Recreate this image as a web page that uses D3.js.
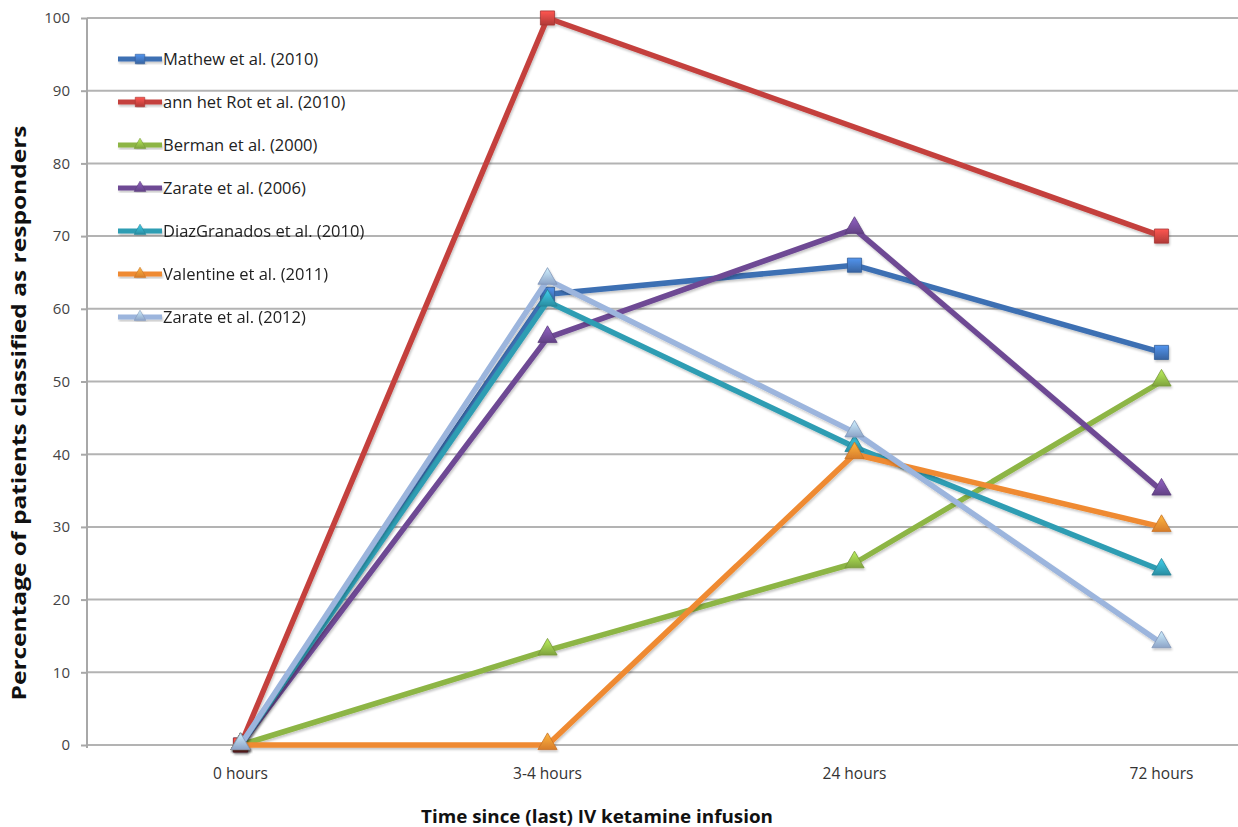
<!DOCTYPE html>
<html><head><meta charset="utf-8">
<script src="https://cdn.jsdelivr.net/npm/d3@7"></script>
<style>body{margin:0;background:#fff}svg{display:block}</style>
</head><body>
<svg id="c" width="1238" height="827"></svg>
<script>
const categories = ["0 hours","3-4 hours","24 hours","72 hours"];
const yTicks = [0,10,20,30,40,50,60,70,80,90,100];
const seriesNames = ["Mathew et al. (2010)","ann het Rot et al. (2010)","Berman et al. (2000)","Zarate et al. (2006)","DiazGranados et al. (2010)","Valentine et al. (2011)","Zarate et al. (2012)"];
const mathew = [0,62,66,54];
const annHetRot = [0,100,null,70];
const berman = [0,13,25,50];
const zarate2006 = [0,56,71,35];
const diazGranados = [0,61,41,24];
const valentine = [0,0,40,30];
const zarate2012 = [0,64,43,14];
const seriesValues = [mathew, annHetRot, berman, zarate2006, diazGranados, valentine, zarate2012];
const colors = ["#3e6fb3","#c4413d","#8db545","#6e4a94","#2f9db3","#ef8a30","#9cb5dd"];
const markers = ["square","square","triangle","triangle","triangle","triangle","triangle"];

(function(){
const svg = d3.select("#c");
const mLeft = 87, mTop = 18, mBottom = 745;
const x = d3.scalePoint().domain(categories).range([mLeft, 1315]).padding(0.5);
const y = d3.scaleLinear().domain([0,100]).range([mBottom, mTop]);
const font = "Open Sans, sans-serif";

const defs = svg.append("defs");
const f = defs.append("filter").attr("id","sh").attr("x","-10%").attr("y","-10%").attr("width","120%").attr("height","120%");
f.append("feDropShadow").attr("dx",1).attr("dy",2).attr("stdDeviation",1.2).attr("flood-color","#000").attr("flood-opacity",0.22);
colors.forEach((c,i)=>{
  const g = defs.append("linearGradient").attr("id","g"+i).attr("x1",0).attr("y1",0).attr("x2",0).attr("y2",1);
  g.append("stop").attr("offset","0%").attr("stop-color", d3.color(c).brighter(0.8));
  g.append("stop").attr("offset","100%").attr("stop-color", d3.color(c).darker(0.3));
});

svg.append("g").selectAll("line").data(yTicks).join("line")
  .attr("x1",mLeft).attr("x2",1238).attr("y1",d=>y(d)).attr("y2",d=>y(d))
  .attr("stroke","#b3b3b3").attr("stroke-width",2);

const ya = svg.append("g").attr("transform",`translate(${mLeft},0)`)
  .call(d3.axisLeft(y).tickValues(yTicks).tickSize(6).tickPadding(11));
ya.select(".domain").attr("stroke","#a8a8a8").attr("stroke-width",2).attr("d",`M0,${mTop}V${mBottom+3}`);
ya.selectAll(".tick line").attr("stroke","#a8a8a8").attr("stroke-width",2);
ya.selectAll(".tick text").attr("font-family",font).attr("font-size",15).attr("fill","#444");

svg.append("g").selectAll("text").data(categories).join("text")
  .attr("x",d=>x(d)).attr("y",779).attr("text-anchor","middle")
  .attr("font-family",font).attr("font-size",15.5).attr("fill","#333").text(d=>d);

svg.append("text").attr("transform","translate(26,413) rotate(-90)").attr("text-anchor","middle")
  .attr("font-family",font).attr("font-weight","bold").attr("font-size",20).attr("fill","#111")
  .attr("textLength",575).attr("lengthAdjust","spacingAndGlyphs")
  .text("Percentage of patients classified as responders");
svg.append("text").attr("x",597).attr("y",823).attr("text-anchor","middle")
  .attr("font-family",font).attr("font-weight","bold").attr("font-size",18).attr("fill","#111")
  .attr("textLength",352).attr("lengthAdjust","spacingAndGlyphs")
  .text("Time since (last) IV ketamine infusion");

const line = d3.line().x(d=>x(d.c)).y(d=>y(d.v));
const sq = d3.symbol().type(d3.symbolSquare).size(200);
const tri = d3.symbol().type(d3.symbolTriangle).size(160);

seriesValues.forEach((vals,i)=>{
  const pts = vals.map((v,j)=>({c:categories[j],v})).filter(d=>d.v!==null);
  const g = svg.append("g").attr("filter","url(#sh)");
  g.append("path").attr("d",line(pts)).attr("fill","none").attr("stroke",colors[i]).attr("stroke-width",5.5).attr("stroke-linejoin","round");
  g.selectAll("path.m").data(pts).join("path").attr("class","m")
    .attr("transform",d=>`translate(${x(d.c)},${y(d.v)+(markers[i]==="triangle"?-1:0)})`)
    .attr("d",markers[i]==="square"?sq():tri())
    .attr("fill",`url(#g${i})`).attr("stroke",d3.color(colors[i]).darker(0.5)).attr("stroke-width",0.8);
});

const lg = svg.append("g");
seriesNames.forEach((n,i)=>{
  const yy = 59 + i*43;
  const g = lg.append("g").attr("filter","url(#sh)");
  g.append("line").attr("x1",118).attr("x2",162).attr("y1",yy).attr("y2",yy).attr("stroke",colors[i]).attr("stroke-width",5);
  g.append("path").attr("transform",`translate(140,${yy})`)
    .attr("d",markers[i]==="square"?d3.symbol().type(d3.symbolSquare).size(90)():d3.symbol().type(d3.symbolTriangle).size(60)())
    .attr("fill",`url(#g${i})`).attr("stroke",d3.color(colors[i]).darker(0.5)).attr("stroke-width",0.6);
  lg.append("text").attr("x",163).attr("y",yy+6).attr("font-family",font).attr("font-size",16.5).attr("fill","#222").text(n);
});
})();
</script>
</body></html>
